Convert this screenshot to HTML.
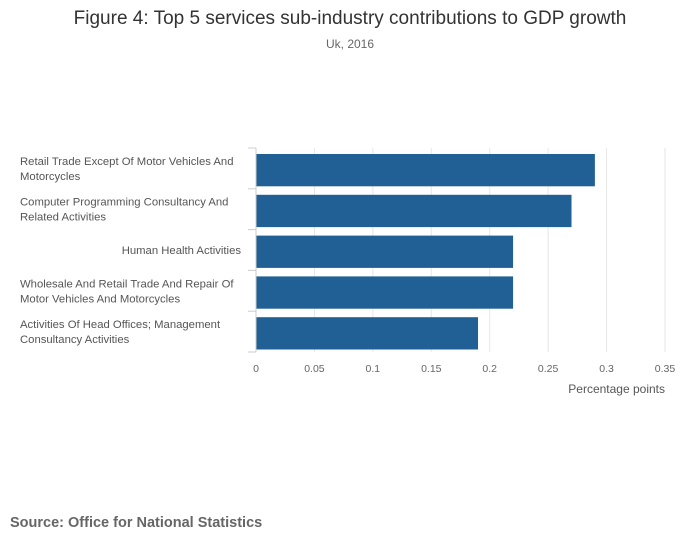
<!DOCTYPE html>
<html><head><meta charset="utf-8">
<style>
body{margin:0;background:#fff;font-family:"Liberation Sans",sans-serif;}
svg{display:block}
</style></head>
<body>
<svg width="700" height="549" id="chart">
<text x="350" y="24" text-anchor="middle" font-size="19" fill="#333">Figure 4: Top 5 services sub-industry contributions to GDP growth</text>
<text x="350" y="48" text-anchor="middle" font-size="12" fill="#666">Uk, 2016</text>
<text x="10" y="527" font-size="14.5" font-weight="bold" fill="#666">Source: Office for National Statistics</text>
<text x="665" y="393" text-anchor="end" font-size="12" fill="#555">Percentage points</text>
<g id="grid"></g><g id="bars"></g><g id="axis"></g>
</svg>
<script>
const categories=[["Retail Trade Except Of Motor Vehicles And","Motorcycles"],["Computer Programming Consultancy And","Related Activities"],["Human Health Activities"],["Wholesale And Retail Trade And Repair Of","Motor Vehicles And Motorcycles"],["Activities Of Head Offices; Management","Consultancy Activities"]];
const values=[0.29,0.27,0.22,0.22,0.19];
const ticks=[0,0.05,0.1,0.15,0.2,0.25,0.3,0.35];
const tickLabels=["0","0.05","0.1","0.15","0.2","0.25","0.3","0.35"];
const NS="http://www.w3.org/2000/svg";
const x0=256,x1=665,plotTop=148,plotBottom=352;
const xs=v=>x0+(v/0.35)*(x1-x0);
const band=(plotBottom-plotTop)/categories.length;
function mk(t,a,p){const e=document.createElementNS(NS,t);for(const k in a)e.setAttribute(k,a[k]);p.appendChild(e);return e;}
const gGrid=document.getElementById('grid'),gBars=document.getElementById('bars'),gAxis=document.getElementById('axis');
ticks.forEach((t,i)=>{
 if(i>0){const l=mk('line',{x1:xs(t),x2:xs(t),y1:plotTop,y2:plotBottom,stroke:'#e6e6e6'},gGrid);
 
 }
 const tx=mk('text',{x:xs(t),y:372,'text-anchor':'middle','font-size':10.5,fill:'#666'},gAxis);tx.textContent=tickLabels[i];
 
 
});
const al=mk('line',{x1:x0,x2:x0,y1:plotTop,y2:plotBottom,stroke:'#ccc'},gAxis);


for(let i=0;i<=categories.length;i++){const tk=mk('line',{x1:x0-8,x2:x0,y1:plotTop+i*band,y2:plotTop+i*band,stroke:'#ccc'},gAxis);
 
 }
categories.forEach((c,i)=>{
 const y=plotTop+i*band;
 const r=mk('rect',{x:x0,y:y+6,width:xs(values[i])-x0,height:band-8.5,fill:'#206095'},gBars);
 
 
 const cy=y+band/2;
 const tx=mk('text',{'font-size':11.3,fill:'#555'},gAxis);
 
 
 if(c.length===1){tx.setAttribute('x',241);tx.setAttribute('text-anchor','end');tx.setAttribute('y',cy+4);tx.textContent=c[0];}
 else c.forEach((line,j)=>{const ts=mk('tspan',{x:20,y:cy-3.5+j*15},tx);ts.textContent=line;});
});
</script>
</body></html>
